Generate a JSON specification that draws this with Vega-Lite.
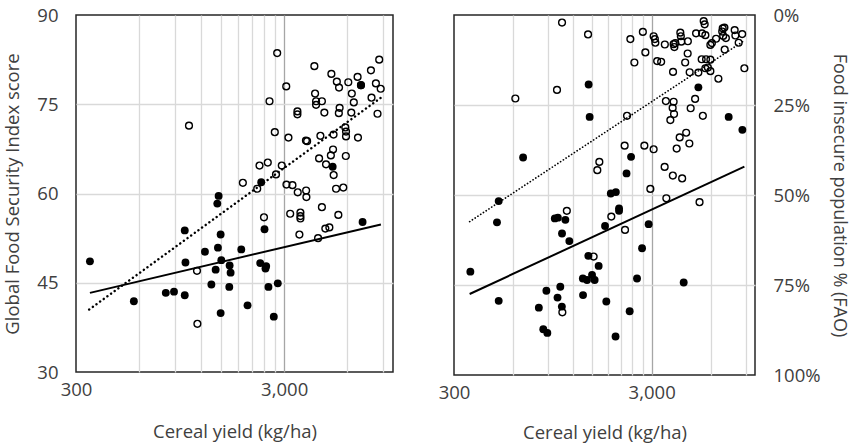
{
  "$schema": "https://vega.github.io/schema/vega-lite/v6.json",
  "padding": {"left": 3, "top": 5, "right": 4, "bottom": 0},
  "bounds": "flush",
  "spacing": 61,
  "config": {
    "font": "Open Sans",
    "view": {"stroke": "#262626", "strokeWidth": 1.5},
    "axis": {
      "labelFont": "Open Sans", "labelFontSize": 18.5, "labelColor": "#404040",
      "titleFont": "Open Sans", "titleFontSize": 18.5, "titleFontWeight": "normal", "titleColor": "#404040",
      "ticks": false, "domain": false, "gridColor": "#d9d9d9", "gridWidth": 1.3
    }
  },
  "datasets": {
    "gfsi": [
      {"yield":350,"score":48.6,"group":"filled"},{"yield":569,"score":41.9,"group":"filled"},{"yield":810,"score":43.3,"group":"filled"},{"yield":887,"score":43.5,"group":"filled"},{"yield":999,"score":53.8,"group":"filled"},{"yield":1007,"score":48.4,"group":"filled"},{"yield":999,"score":42.9,"group":"filled"},{"yield":1249,"score":50.2,"group":"filled"},{"yield":1341,"score":44.7,"group":"filled"},{"yield":1406,"score":47.2,"group":"filled"},{"yield":1442,"score":50.9,"group":"filled"},{"yield":1453,"score":59.6,"group":"filled"},{"yield":1432,"score":58.3,"group":"filled"},{"yield":1486,"score":53.1,"group":"filled"},{"yield":1497,"score":48.8,"group":"filled"},{"yield":1486,"score":39.9,"group":"filled"},{"yield":1641,"score":47.9,"group":"filled"},{"yield":1659,"score":46.7,"group":"filled"},{"yield":1635,"score":44.3,"group":"filled"},{"yield":1867,"score":50.6,"group":"filled"},{"yield":2001,"score":41.2,"group":"filled"},{"yield":2302,"score":48.3,"group":"filled"},{"yield":2328,"score":61.9,"group":"filled"},{"yield":2414,"score":54.0,"group":"filled"},{"yield":2440,"score":47.4,"group":"filled"},{"yield":2459,"score":47.8,"group":"filled"},{"yield":2522,"score":44.3,"group":"filled"},{"yield":2675,"score":39.3,"group":"filled"},{"yield":2796,"score":44.9,"group":"filled"},{"yield":5130,"score":64.5,"group":"filled"},{"yield":7016,"score":78.2,"group":"filled"},{"yield":7143,"score":55.2,"group":"filled"},
      {"yield":1047,"score":71.4,"group":"open"},{"yield":1144,"score":47.0,"group":"open"},{"yield":1149,"score":38.1,"group":"open"},{"yield":1900,"score":61.8,"group":"open"},{"yield":2227,"score":60.8,"group":"open"},{"yield":2284,"score":64.7,"group":"open"},{"yield":2503,"score":65.2,"group":"open"},{"yield":2551,"score":75.5,"group":"open"},{"yield":2400,"score":56.0,"group":"open"},{"yield":2777,"score":83.6,"group":"open"},{"yield":2705,"score":70.3,"group":"open"},{"yield":2741,"score":63.2,"group":"open"},{"yield":2922,"score":64.7,"group":"open"},{"yield":3070,"score":78.0,"group":"open"},{"yield":3146,"score":69.4,"group":"open"},{"yield":3077,"score":61.5,"group":"open"},{"yield":3288,"score":61.4,"group":"open"},{"yield":3207,"score":56.6,"group":"open"},{"yield":3474,"score":73.8,"group":"open"},{"yield":3474,"score":73.3,"group":"open"},{"yield":3486,"score":60.2,"group":"open"},{"yield":3825,"score":60.5,"group":"open"},{"yield":3837,"score":59.4,"group":"open"},{"yield":3591,"score":56.8,"group":"open"},{"yield":3591,"score":56.2,"group":"open"},{"yield":3591,"score":55.8,"group":"open"},{"yield":3551,"score":53.1,"group":"open"},{"yield":3817,"score":68.9,"group":"open"},{"yield":3867,"score":68.8,"group":"open"},{"yield":4190,"score":81.4,"group":"open"},{"yield":4223,"score":76.8,"group":"open"},{"yield":4270,"score":75.5,"group":"open"},{"yield":4555,"score":75.5,"group":"open"},{"yield":4270,"score":74.9,"group":"open"},{"yield":4680,"score":73.6,"group":"open"},{"yield":4479,"score":69.7,"group":"open"},{"yield":4415,"score":65.9,"group":"open"},{"yield":4555,"score":57.7,"group":"open"},{"yield":4366,"score":52.5,"group":"open"},{"yield":4767,"score":64.9,"group":"open"},{"yield":4731,"score":54.1,"group":"open"},{"yield":4947,"score":54.3,"group":"open"},{"yield":5058,"score":80.1,"group":"open"},{"yield":5373,"score":78.8,"group":"open"},{"yield":5505,"score":77.8,"group":"open"},{"yield":5541,"score":74.4,"group":"open"},{"yield":5493,"score":73.5,"group":"open"},{"yield":5181,"score":69.9,"group":"open"},{"yield":5152,"score":67.4,"group":"open"},{"yield":5029,"score":66.4,"group":"open"},{"yield":5187,"score":63.1,"group":"open"},{"yield":5326,"score":60.8,"group":"open"},{"yield":5771,"score":61.0,"group":"open"},{"yield":5463,"score":56.4,"group":"open"},{"yield":5901,"score":71.1,"group":"open"},{"yield":5947,"score":70.4,"group":"open"},{"yield":5947,"score":69.6,"group":"open"},{"yield":5934,"score":66.3,"group":"open"},{"yield":6099,"score":78.7,"group":"open"},{"yield":6340,"score":76.8,"group":"open"},{"yield":6482,"score":75.3,"group":"open"},{"yield":6304,"score":73.6,"group":"open"},{"yield":6759,"score":79.6,"group":"open"},{"yield":6788,"score":69.4,"group":"open"},{"yield":7016,"score":78.2,"group":"open"},{"yield":7835,"score":80.7,"group":"open"},{"yield":7886,"score":76.1,"group":"open"},{"yield":8585,"score":82.5,"group":"open"},{"yield":8277,"score":78.5,"group":"open"},{"yield":8727,"score":77.6,"group":"open"},{"yield":8426,"score":73.4,"group":"open"}
    ],
    "gfsiTrend": [
      {"yield":350,"score":43.3,"group":"filled"},{"yield":8747,"score":54.8,"group":"filled"},
      {"yield":347,"score":40.5,"group":"open"},{"yield":8747,"score":76.1,"group":"open"}
    ],
    "fao": [
      {"yield":363,"insecure":71.3,"group":"filled"},{"yield":505,"insecure":51.7,"group":"filled"},{"yield":495,"insecure":57.6,"group":"filled"},{"yield":505,"insecure":79.4,"group":"filled"},{"yield":671,"insecure":39.6,"group":"filled"},{"yield":806,"insecure":81.3,"group":"filled"},{"yield":849,"insecure":87.3,"group":"filled"},{"yield":890,"insecure":88.3,"group":"filled"},{"yield":880,"insecure":76.6,"group":"filled"},{"yield":971,"insecure":56.5,"group":"filled"},{"yield":1006,"insecure":56.3,"group":"filled"},{"yield":1098,"insecure":56.9,"group":"filled"},{"yield":1056,"insecure":60.7,"group":"filled"},{"yield":1150,"insecure":62.8,"group":"filled"},{"yield":1035,"insecure":75.5,"group":"filled"},{"yield":1002,"insecure":78.5,"group":"filled"},{"yield":1054,"insecure":81.0,"group":"filled"},{"yield":1349,"insecure":77.8,"group":"filled"},{"yield":1346,"insecure":73.2,"group":"filled"},{"yield":1413,"insecure":73.6,"group":"filled"},{"yield":1498,"insecure":72.2,"group":"filled"},{"yield":1544,"insecure":73.6,"group":"filled"},{"yield":1435,"insecure":66.9,"group":"filled"},{"yield":1618,"insecure":69.7,"group":"filled"},{"yield":1440,"insecure":19.3,"group":"filled"},{"yield":1457,"insecure":28.3,"group":"filled"},{"yield":1743,"insecure":58.6,"group":"filled"},{"yield":1769,"insecure":79.6,"group":"filled"},{"yield":1864,"insecure":49.6,"group":"filled"},{"yield":1977,"insecure":49.2,"group":"filled"},{"yield":2052,"insecure":54.4,"group":"filled"},{"yield":2052,"insecure":53.7,"group":"filled"},{"yield":1970,"insecure":89.3,"group":"filled"},{"yield":2239,"insecure":44.0,"group":"filled"},{"yield":2360,"insecure":39.4,"group":"filled"},{"yield":2322,"insecure":82.3,"group":"filled"},{"yield":2530,"insecure":73.2,"group":"filled"},{"yield":2683,"insecure":64.8,"group":"filled"},{"yield":2897,"insecure":58.1,"group":"filled"},{"yield":4357,"insecure":74.3,"group":"filled"},{"yield":5170,"insecure":20.1,"group":"filled"},{"yield":7359,"insecure":28.3,"group":"filled"},{"yield":8632,"insecure":31.9,"group":"filled"},
      {"yield":613,"insecure":23.2,"group":"open"},{"yield":996,"insecure":20.8,"group":"open"},{"yield":1056,"insecure":2.1,"group":"open"},{"yield":1430,"insecure":5.4,"group":"open"},{"yield":1117,"insecure":54.4,"group":"open"},{"yield":1526,"insecure":67.1,"group":"open"},{"yield":1631,"insecure":40.8,"group":"open"},{"yield":1593,"insecure":43.1,"group":"open"},{"yield":1875,"insecure":56.0,"group":"open"},{"yield":2190,"insecure":36.3,"group":"open"},{"yield":2200,"insecure":59.7,"group":"open"},{"yield":2252,"insecure":28.0,"group":"open"},{"yield":2756,"insecure":36.3,"group":"open"},{"yield":3070,"insecure":37.3,"group":"open"},{"yield":2955,"insecure":48.3,"group":"open"},{"yield":3490,"insecure":42.2,"group":"open"},{"yield":3840,"insecure":44.6,"group":"open"},{"yield":4280,"insecure":45.4,"group":"open"},{"yield":3560,"insecure":50.9,"group":"open"},{"yield":5241,"insecure":52.0,"group":"open"},{"yield":1060,"insecure":82.6,"group":"open"},{"yield":2341,"insecure":6.7,"group":"open"},{"yield":2453,"insecure":13.2,"group":"open"},{"yield":2708,"insecure":4.7,"group":"open"},{"yield":2788,"insecure":10.4,"group":"open"},{"yield":3070,"insecure":5.9,"group":"open"},{"yield":3114,"insecure":6.7,"group":"open"},{"yield":3132,"insecure":7.7,"group":"open"},{"yield":3199,"insecure":12.8,"group":"open"},{"yield":3351,"insecure":13.0,"group":"open"},{"yield":3498,"insecure":8.2,"group":"open"},{"yield":3849,"insecure":15.8,"group":"open"},{"yield":3875,"insecure":8.1,"group":"open"},{"yield":3908,"insecure":8.9,"group":"open"},{"yield":3953,"insecure":7.8,"group":"open"},{"yield":4190,"insecure":4.9,"group":"open"},{"yield":4215,"insecure":5.9,"group":"open"},{"yield":4239,"insecure":7.4,"group":"open"},{"yield":4575,"insecure":7.3,"group":"open"},{"yield":4564,"insecure":10.7,"group":"open"},{"yield":4433,"insecure":13.2,"group":"open"},{"yield":4671,"insecure":15.9,"group":"open"},{"yield":5033,"insecure":5.1,"group":"open"},{"yield":5500,"insecure":1.7,"group":"open"},{"yield":5563,"insecure":2.6,"group":"open"},{"yield":5397,"insecure":5.1,"group":"open"},{"yield":5609,"insecure":5.6,"group":"open"},{"yield":5373,"insecure":12.3,"group":"open"},{"yield":5654,"insecure":12.3,"group":"open"},{"yield":5170,"insecure":16.0,"group":"open"},{"yield":5609,"insecure":14.8,"group":"open"},{"yield":5775,"insecure":14.6,"group":"open"},{"yield":5946,"insecure":15.6,"group":"open"},{"yield":5946,"insecure":12.4,"group":"open"},{"yield":5946,"insecure":8.3,"group":"open"},{"yield":6051,"insecure":7.8,"group":"open"},{"yield":6354,"insecure":6.6,"group":"open"},{"yield":6528,"insecure":17.7,"group":"open"},{"yield":6864,"insecure":3.7,"group":"open"},{"yield":7002,"insecure":3.5,"group":"open"},{"yield":6825,"insecure":4.6,"group":"open"},{"yield":6903,"insecure":5.8,"group":"open"},{"yield":7125,"insecure":6.4,"group":"open"},{"yield":7024,"insecure":9.6,"group":"open"},{"yield":7891,"insecure":4.2,"group":"open"},{"yield":7956,"insecure":5.7,"group":"open"},{"yield":8267,"insecure":7.7,"group":"open"},{"yield":8614,"insecure":5.3,"group":"open"},{"yield":8836,"insecure":14.8,"group":"open"},{"yield":3541,"insecure":23.9,"group":"open"},{"yield":3875,"insecure":24.1,"group":"open"},{"yield":3831,"insecure":25.8,"group":"open"},{"yield":3894,"insecure":27.5,"group":"open"},{"yield":3730,"insecure":29.2,"group":"open"},{"yield":4977,"insecure":23.3,"group":"open"},{"yield":4726,"insecure":25.9,"group":"open"},{"yield":5447,"insecure":28.0,"group":"open"},{"yield":4485,"insecure":32.7,"group":"open"},{"yield":4158,"insecure":34.0,"group":"open"},{"yield":4654,"insecure":35.7,"group":"open"},{"yield":4015,"insecure":37.1,"group":"open"}
    ],
    "faoTrend": [
      {"yield":360,"insecure":77.5,"group":"filled"},{"yield":8836,"insecure":42.1,"group":"filled"},
      {"yield":360,"insecure":57.4,"group":"open"},{"yield":8836,"insecure":7.1,"group":"open"}
    ]
  },
  "hconcat": [
    {
      "width": 317,
      "height": 357,
      "encoding": {
        "x": {
          "field": "yield", "type": "quantitative",
          "scale": {"type": "log", "domain": [300, 10000], "nice": false},
          "axis": {
            "title": "Cereal yield (kg/ha)",
            "values": [300, 600, 900, 1200, 1500, 1800, 2100, 2400, 2700, 3000, 6000, 9000],
            "labelExpr": "datum.value == 300 || datum.value == 3000 ? format(datum.value, ',') : ''",
            "labelFlush": false, "labelOverlap": false, "labelPadding": 8, "titlePadding": 24,
            "gridColor": {"condition": {"test": "datum.value == 3000", "value": "#a6a6a6"}, "value": "#d9d9d9"},
            "gridOpacity": {"condition": {"test": "datum.value == 300", "value": 0}, "value": 1}
          }
        },
        "y": {
          "field": "score", "type": "quantitative",
          "scale": {"domain": [30, 90], "nice": false, "zero": false},
          "axis": {
            "title": "Global Food Security Index score",
            "values": [30, 45, 60, 75, 90],
            "labelPadding": 18, "titlePadding": 14,
            "gridOpacity": {"condition": {"test": "datum.value == 30 || datum.value == 90", "value": 0}, "value": 1}
          }
        }
      },
      "layer": [
        {"data": {"name": "gfsi"}, "transform": [{"filter": "datum.group == 'filled'"}],
         "mark": {"type": "point", "shape": "circle", "filled": true, "color": "#000000", "size": 62, "opacity": 1}},
        {"data": {"name": "gfsi"}, "transform": [{"filter": "datum.group == 'open'"}],
         "mark": {"type": "point", "shape": "circle", "filled": false, "color": "#000000", "size": 46, "strokeWidth": 1.4, "opacity": 1}},
        {"data": {"name": "gfsiTrend"}, "transform": [{"filter": "datum.group == 'filled'"}],
         "mark": {"type": "line", "color": "#000000", "strokeWidth": 2}},
        {"data": {"name": "gfsiTrend"}, "transform": [{"filter": "datum.group == 'open'"}],
         "mark": {"type": "line", "color": "#000000", "strokeWidth": 2.4, "strokeCap": "round", "strokeDash": [0.1, 4.4]}}
      ]
    },
    {
      "width": 301,
      "height": 360,
      "encoding": {
        "x": {
          "field": "yield", "type": "quantitative",
          "scale": {"type": "log", "domain": [300, 10000], "nice": false},
          "axis": {
            "title": "Cereal yield (kg/ha)",
            "values": [300, 600, 900, 1200, 1500, 1800, 2100, 2400, 2700, 3000, 6000, 9000],
            "labelExpr": "datum.value == 300 || datum.value == 3000 ? format(datum.value, ',') : ''",
            "labelFlush": false, "labelOverlap": false, "labelPadding": 8, "titlePadding": 22,
            "gridColor": {"condition": {"test": "datum.value == 3000", "value": "#a6a6a6"}, "value": "#d9d9d9"},
            "gridOpacity": {"condition": {"test": "datum.value == 300", "value": 0}, "value": 1}
          }
        },
        "y": {
          "field": "insecure", "type": "quantitative",
          "scale": {"domain": [0, 100], "nice": false, "reverse": true},
          "axis": {
            "orient": "right",
            "title": "Food insecure population % (FAO)",
            "titleFontSize": 18,
            "values": [0, 25, 50, 75, 100],
            "labelExpr": "datum.value + '%'",
            "labelPadding": 18, "titlePadding": 9,
            "gridOpacity": {"condition": {"test": "datum.value == 0 || datum.value == 100", "value": 0}, "value": 1}
          }
        }
      },
      "layer": [
        {"data": {"name": "fao"}, "transform": [{"filter": "datum.group == 'filled'"}],
         "mark": {"type": "point", "shape": "circle", "filled": true, "color": "#000000", "size": 62, "opacity": 1}},
        {"data": {"name": "fao"}, "transform": [{"filter": "datum.group == 'open'"}],
         "mark": {"type": "point", "shape": "circle", "filled": false, "color": "#000000", "size": 46, "strokeWidth": 1.4, "opacity": 1}},
        {"data": {"name": "faoTrend"}, "transform": [{"filter": "datum.group == 'filled'"}],
         "mark": {"type": "line", "color": "#000000", "strokeWidth": 2}},
        {"data": {"name": "faoTrend"}, "transform": [{"filter": "datum.group == 'open'"}],
         "mark": {"type": "line", "color": "#000000", "strokeWidth": 1.7, "strokeCap": "round", "strokeDash": [0.1, 3.2]}}
      ]
    }
  ]
}
